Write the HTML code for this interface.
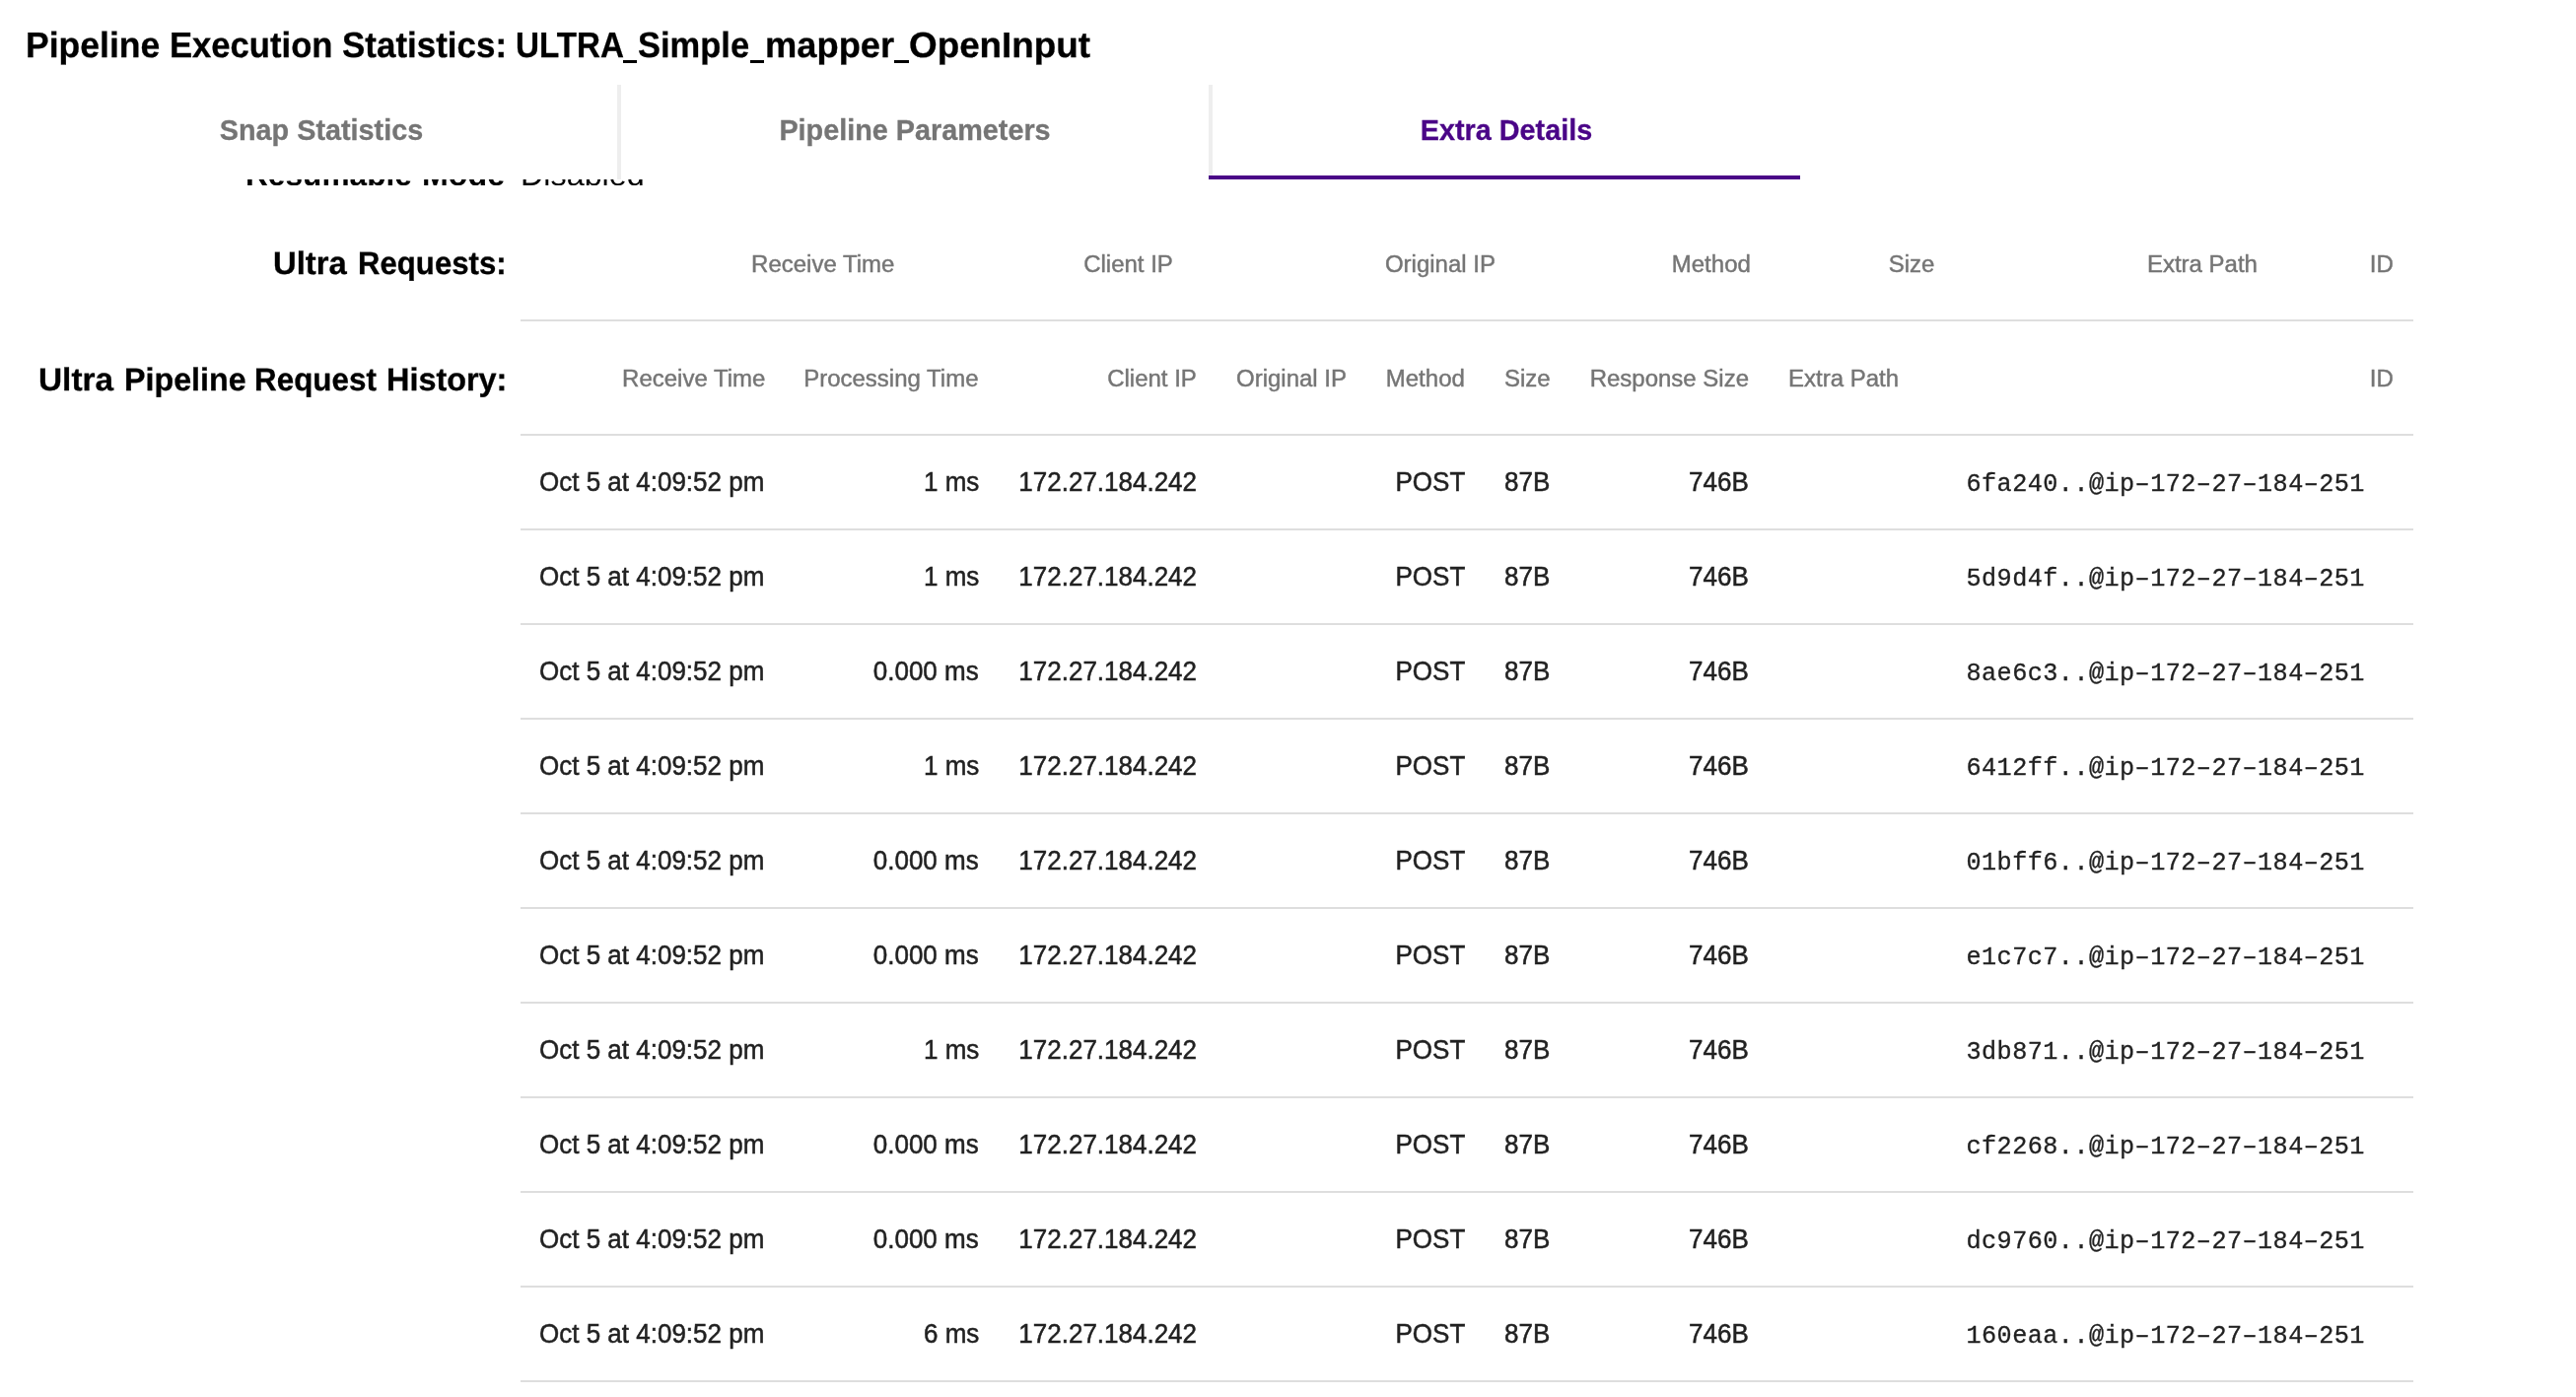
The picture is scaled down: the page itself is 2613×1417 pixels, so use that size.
<!DOCTYPE html>
<html><head><meta charset="utf-8"><title>Pipeline Execution Statistics</title>
<style>
html,body{margin:0;padding:0;background:#fff;}
body{width:2613px;height:1417px;overflow:hidden;position:relative;font-family:"Liberation Sans",sans-serif;}
#app{position:absolute;left:0;top:0;width:2613px;height:1417px;overflow:hidden;will-change:transform;}
.t{position:absolute;white-space:pre;}
.ln{position:absolute;left:528px;width:1920px;height:2px;background:#dedede;}
.sep{position:absolute;top:86px;width:4px;height:96px;background:#eeeeee;}
</style></head><body><div id="app">

<h1 style="margin:0">
<span class="t" style="left:26.44px;top:28.35px;font:bold 36.3px/36.3px 'Liberation Sans', sans-serif;color:#000;transform:scaleX(0.9787);transform-origin:0 50%;text-rendering:geometricPrecision;-webkit-text-stroke:0.3px #000;">Pipeline</span>
<span class="t" style="left:172.09px;top:28.35px;font:bold 36.3px/36.3px 'Liberation Sans', sans-serif;color:#000;transform:scaleX(0.9540);transform-origin:0 50%;text-rendering:geometricPrecision;-webkit-text-stroke:0.3px #000;">Execution</span>
<span class="t" style="left:347.14px;top:28.35px;font:bold 36.3px/36.3px 'Liberation Sans', sans-serif;color:#000;transform:scaleX(0.9629);transform-origin:0 50%;text-rendering:geometricPrecision;-webkit-text-stroke:0.3px #000;">Statistics:</span>
<span class="t" style="left:522.87px;top:28.35px;font:bold 36.3px/36.3px 'Liberation Sans', sans-serif;color:#000;transform:scaleX(0.9138);transform-origin:0 50%;text-rendering:geometricPrecision;-webkit-text-stroke:0.3px #000;">ULTRA</span>
<span class="t" style="left:647.05px;top:28.35px;font:bold 36.3px/36.3px 'Liberation Sans', sans-serif;color:#000;transform:scaleX(0.9501);transform-origin:0 50%;text-rendering:geometricPrecision;-webkit-text-stroke:0.3px #000;">Simple</span>
<span class="t" style="left:776.00px;top:28.35px;font:bold 36.3px/36.3px 'Liberation Sans', sans-serif;color:#000;transform:scaleX(1.0001);transform-origin:0 50%;text-rendering:geometricPrecision;-webkit-text-stroke:0.3px #000;">mapper</span>
<span class="t" style="left:921.99px;top:28.35px;font:bold 36.3px/36.3px 'Liberation Sans', sans-serif;color:#000;transform:scaleX(1.0146);transform-origin:0 50%;text-rendering:geometricPrecision;-webkit-text-stroke:0.3px #000;">OpenInput</span>
<span class="t" style="left:631.8px;top:61px;width:14.7px;height:3px;background:#000;font:3px/3px 'Liberation Sans', sans-serif;color:transparent;overflow:hidden">_</span>
<span class="t" style="left:760.7px;top:61px;width:14.6px;height:3px;background:#000;font:3px/3px 'Liberation Sans', sans-serif;color:transparent;overflow:hidden">_</span>
<span class="t" style="left:907.4px;top:61px;width:14.3px;height:3px;background:#000;font:3px/3px 'Liberation Sans', sans-serif;color:transparent;overflow:hidden">_</span>
</h1>
<div style="position:absolute;left:0;top:182px;width:2613px;height:6.4px;overflow:hidden;">
<span class="t" style="left:249.45px;top:-21.25px;font:bold 32.5px/32.5px 'Liberation Sans', sans-serif;color:#000;transform:scaleX(0.9740);transform-origin:0 50%;text-rendering:geometricPrecision;">Resumable</span>
<span class="t" style="left:428.32px;top:-21.25px;font:bold 32.5px/32.5px 'Liberation Sans', sans-serif;color:#000;transform:scaleX(0.9905);transform-origin:0 50%;text-rendering:geometricPrecision;">Mode</span>
<span class="t" style="left:527.58px;top:-21.00px;font:normal 32px/32px 'Liberation Sans', sans-serif;color:#000;transform:scaleX(1.0098);transform-origin:0 50%;text-rendering:geometricPrecision;">Disabled</span>
</div>
<nav>
<div class="sep" style="left:626px"></div><div class="sep" style="left:1226px"></div>
<div style="position:absolute;left:1226px;top:178px;width:600px;height:4px;background:#4a0587;"></div>
<span class="t" style="top:116.60px;font:bold 29.81px/29.81px 'Liberation Sans', sans-serif;color:#757575;-webkit-text-stroke:0.3px #757575;transform:scaleX(0.9662);transform-origin:50% 50%;left:26.00px;width:600px;text-align:center;">Snap Statistics</span>
<span class="t" style="top:116.60px;font:bold 29.81px/29.81px 'Liberation Sans', sans-serif;color:#757575;-webkit-text-stroke:0.3px #757575;transform:scaleX(0.9662);transform-origin:50% 50%;left:628.00px;width:600px;text-align:center;">Pipeline Parameters</span>
<span class="t" style="top:116.60px;font:bold 29.81px/29.81px 'Liberation Sans', sans-serif;color:#4a0587;-webkit-text-stroke:0.3px #4a0587;transform:scaleX(0.9662);transform-origin:50% 50%;left:1228.00px;width:600px;text-align:center;">Extra Details</span>
</nav>
<span class="t" style="left:277.29px;top:250.75px;font:bold 32.5px/32.5px 'Liberation Sans', sans-serif;color:#000;transform:scaleX(1.0099);transform-origin:0 50%;text-rendering:geometricPrecision;-webkit-text-stroke:0.3px #000;">Ultra</span>
<span class="t" style="left:363.28px;top:250.75px;font:bold 32.5px/32.5px 'Liberation Sans', sans-serif;color:#000;transform:scaleX(0.9586);transform-origin:0 50%;text-rendering:geometricPrecision;-webkit-text-stroke:0.3px #000;">Requests:</span>
<span class="t" style="left:39.37px;top:368.75px;font:bold 32.5px/32.5px 'Liberation Sans', sans-serif;color:#000;transform:scaleX(1.0274);transform-origin:0 50%;text-rendering:geometricPrecision;-webkit-text-stroke:0.3px #000;">Ultra</span>
<span class="t" style="left:126.32px;top:368.75px;font:bold 32.5px/32.5px 'Liberation Sans', sans-serif;color:#000;transform:scaleX(0.9922);transform-origin:0 50%;text-rendering:geometricPrecision;-webkit-text-stroke:0.3px #000;">Pipeline</span>
<span class="t" style="left:258.47px;top:368.75px;font:bold 32.5px/32.5px 'Liberation Sans', sans-serif;color:#000;transform:scaleX(0.9660);transform-origin:0 50%;text-rendering:geometricPrecision;-webkit-text-stroke:0.3px #000;">Request</span>
<span class="t" style="left:391.61px;top:368.75px;font:bold 32.5px/32.5px 'Liberation Sans', sans-serif;color:#000;transform:scaleX(0.9968);transform-origin:0 50%;text-rendering:geometricPrecision;-webkit-text-stroke:0.3px #000;">History:</span>
<span class="t" style="top:256.08px;font:normal 24.84px/24.84px 'Liberation Sans', sans-serif;color:#757575;-webkit-text-stroke:0.45px #757575;transform:scaleX(0.9662);transform-origin:100% 50%;right:1706.00px;">Receive Time</span>
<span class="t" style="top:256.08px;font:normal 24.84px/24.84px 'Liberation Sans', sans-serif;color:#757575;-webkit-text-stroke:0.45px #757575;transform:scaleX(0.9662);transform-origin:100% 50%;right:1423.50px;">Client IP</span>
<span class="t" style="top:256.08px;font:normal 24.84px/24.84px 'Liberation Sans', sans-serif;color:#757575;-webkit-text-stroke:0.45px #757575;transform:scaleX(0.9662);transform-origin:100% 50%;right:1096.50px;">Original IP</span>
<span class="t" style="top:256.08px;font:normal 24.84px/24.84px 'Liberation Sans', sans-serif;color:#757575;-webkit-text-stroke:0.45px #757575;transform:scaleX(0.9662);transform-origin:100% 50%;right:837.50px;">Method</span>
<span class="t" style="top:256.08px;font:normal 24.84px/24.84px 'Liberation Sans', sans-serif;color:#757575;-webkit-text-stroke:0.45px #757575;transform:scaleX(0.9662);transform-origin:100% 50%;right:651.00px;">Size</span>
<span class="t" style="top:256.08px;font:normal 24.84px/24.84px 'Liberation Sans', sans-serif;color:#757575;-webkit-text-stroke:0.45px #757575;transform:scaleX(0.9662);transform-origin:100% 50%;right:323.50px;">Extra Path</span>
<span class="t" style="top:256.08px;font:normal 24.84px/24.84px 'Liberation Sans', sans-serif;color:#757575;-webkit-text-stroke:0.45px #757575;transform:scaleX(0.9662);transform-origin:100% 50%;right:185.50px;">ID</span>
<div class="ln" style="top:324px"></div>
<span class="t" style="top:372.08px;font:normal 24.84px/24.84px 'Liberation Sans', sans-serif;color:#757575;-webkit-text-stroke:0.45px #757575;transform:scaleX(0.9662);transform-origin:100% 50%;right:1837.00px;">Receive Time</span>
<span class="t" style="top:372.08px;font:normal 24.84px/24.84px 'Liberation Sans', sans-serif;color:#757575;-webkit-text-stroke:0.45px #757575;transform:scaleX(0.9662);transform-origin:100% 50%;right:1620.00px;">Processing Time</span>
<span class="t" style="top:372.08px;font:normal 24.84px/24.84px 'Liberation Sans', sans-serif;color:#757575;-webkit-text-stroke:0.45px #757575;transform:scaleX(0.9662);transform-origin:100% 50%;right:1399.00px;">Client IP</span>
<span class="t" style="top:372.08px;font:normal 24.84px/24.84px 'Liberation Sans', sans-serif;color:#757575;-webkit-text-stroke:0.45px #757575;transform:scaleX(0.9662);transform-origin:0 50%;left:1253.50px;">Original IP</span>
<span class="t" style="top:372.08px;font:normal 24.84px/24.84px 'Liberation Sans', sans-serif;color:#757575;-webkit-text-stroke:0.45px #757575;transform:scaleX(0.9662);transform-origin:100% 50%;right:1126.80px;">Method</span>
<span class="t" style="top:372.08px;font:normal 24.84px/24.84px 'Liberation Sans', sans-serif;color:#757575;-webkit-text-stroke:0.45px #757575;transform:scaleX(0.9662);transform-origin:0 50%;left:1525.50px;">Size</span>
<span class="t" style="top:372.08px;font:normal 24.84px/24.84px 'Liberation Sans', sans-serif;color:#757575;-webkit-text-stroke:0.45px #757575;transform:scaleX(0.9662);transform-origin:100% 50%;right:839.00px;">Response Size</span>
<span class="t" style="top:372.08px;font:normal 24.84px/24.84px 'Liberation Sans', sans-serif;color:#757575;-webkit-text-stroke:0.45px #757575;transform:scaleX(0.9662);transform-origin:0 50%;left:1814.00px;">Extra Path</span>
<span class="t" style="top:372.08px;font:normal 24.84px/24.84px 'Liberation Sans', sans-serif;color:#757575;-webkit-text-stroke:0.45px #757575;transform:scaleX(0.9662);transform-origin:100% 50%;right:185.50px;">ID</span>
<div class="ln" style="top:440px"></div>
<div class="row">
<span class="t" style="top:475.55px;font:normal 26.91px/26.91px 'Liberation Sans', sans-serif;color:#212121;-webkit-text-stroke:0.5px #212121;transform:scaleX(0.9662);transform-origin:0 50%;left:547.00px;">Oct 5 at 4:09:52 pm</span>
<span class="t" style="top:475.55px;font:normal 26.91px/26.91px 'Liberation Sans', sans-serif;color:#212121;-webkit-text-stroke:0.5px #212121;transform:scaleX(0.9662);transform-origin:100% 50%;right:1620.00px;">1 ms</span>
<span class="t" style="top:475.55px;font:normal 26.91px/26.91px 'Liberation Sans', sans-serif;color:#212121;-webkit-text-stroke:0.5px #212121;transform:scaleX(0.9662);transform-origin:100% 50%;right:1399.00px;">172.27.184.242</span>
<span class="t" style="top:475.55px;font:normal 26.91px/26.91px 'Liberation Sans', sans-serif;color:#212121;-webkit-text-stroke:0.5px #212121;transform:scaleX(0.9662);transform-origin:100% 50%;right:1127.00px;">POST</span>
<span class="t" style="top:475.55px;font:normal 26.91px/26.91px 'Liberation Sans', sans-serif;color:#212121;-webkit-text-stroke:0.5px #212121;transform:scaleX(0.9662);transform-origin:0 50%;left:1525.50px;">87B</span>
<span class="t" style="top:475.55px;font:normal 26.91px/26.91px 'Liberation Sans', sans-serif;color:#212121;-webkit-text-stroke:0.5px #212121;transform:scaleX(0.9662);transform-origin:100% 50%;right:839.00px;">746B</span>
<span class="t" style="top:478.90px;font:normal 25.20px/25.20px 'Liberation Mono', monospace;color:#212121;letter-spacing:0.44px;-webkit-text-stroke:0.3px #212121;left:1994.50px;">6fa240..@ip&#x2013;172&#x2013;27&#x2013;184&#x2013;251</span>
<div class="ln" style="top:536px"></div>
</div>
<div class="row">
<span class="t" style="top:571.54px;font:normal 26.91px/26.91px 'Liberation Sans', sans-serif;color:#212121;-webkit-text-stroke:0.5px #212121;transform:scaleX(0.9662);transform-origin:0 50%;left:547.00px;">Oct 5 at 4:09:52 pm</span>
<span class="t" style="top:571.54px;font:normal 26.91px/26.91px 'Liberation Sans', sans-serif;color:#212121;-webkit-text-stroke:0.5px #212121;transform:scaleX(0.9662);transform-origin:100% 50%;right:1620.00px;">1 ms</span>
<span class="t" style="top:571.54px;font:normal 26.91px/26.91px 'Liberation Sans', sans-serif;color:#212121;-webkit-text-stroke:0.5px #212121;transform:scaleX(0.9662);transform-origin:100% 50%;right:1399.00px;">172.27.184.242</span>
<span class="t" style="top:571.54px;font:normal 26.91px/26.91px 'Liberation Sans', sans-serif;color:#212121;-webkit-text-stroke:0.5px #212121;transform:scaleX(0.9662);transform-origin:100% 50%;right:1127.00px;">POST</span>
<span class="t" style="top:571.54px;font:normal 26.91px/26.91px 'Liberation Sans', sans-serif;color:#212121;-webkit-text-stroke:0.5px #212121;transform:scaleX(0.9662);transform-origin:0 50%;left:1525.50px;">87B</span>
<span class="t" style="top:571.54px;font:normal 26.91px/26.91px 'Liberation Sans', sans-serif;color:#212121;-webkit-text-stroke:0.5px #212121;transform:scaleX(0.9662);transform-origin:100% 50%;right:839.00px;">746B</span>
<span class="t" style="top:574.90px;font:normal 25.20px/25.20px 'Liberation Mono', monospace;color:#212121;letter-spacing:0.44px;-webkit-text-stroke:0.3px #212121;left:1994.50px;">5d9d4f..@ip&#x2013;172&#x2013;27&#x2013;184&#x2013;251</span>
<div class="ln" style="top:632px"></div>
</div>
<div class="row">
<span class="t" style="top:667.54px;font:normal 26.91px/26.91px 'Liberation Sans', sans-serif;color:#212121;-webkit-text-stroke:0.5px #212121;transform:scaleX(0.9662);transform-origin:0 50%;left:547.00px;">Oct 5 at 4:09:52 pm</span>
<span class="t" style="top:667.54px;font:normal 26.91px/26.91px 'Liberation Sans', sans-serif;color:#212121;-webkit-text-stroke:0.5px #212121;transform:scaleX(0.9662);transform-origin:100% 50%;right:1620.00px;">0.000 ms</span>
<span class="t" style="top:667.54px;font:normal 26.91px/26.91px 'Liberation Sans', sans-serif;color:#212121;-webkit-text-stroke:0.5px #212121;transform:scaleX(0.9662);transform-origin:100% 50%;right:1399.00px;">172.27.184.242</span>
<span class="t" style="top:667.54px;font:normal 26.91px/26.91px 'Liberation Sans', sans-serif;color:#212121;-webkit-text-stroke:0.5px #212121;transform:scaleX(0.9662);transform-origin:100% 50%;right:1127.00px;">POST</span>
<span class="t" style="top:667.54px;font:normal 26.91px/26.91px 'Liberation Sans', sans-serif;color:#212121;-webkit-text-stroke:0.5px #212121;transform:scaleX(0.9662);transform-origin:0 50%;left:1525.50px;">87B</span>
<span class="t" style="top:667.54px;font:normal 26.91px/26.91px 'Liberation Sans', sans-serif;color:#212121;-webkit-text-stroke:0.5px #212121;transform:scaleX(0.9662);transform-origin:100% 50%;right:839.00px;">746B</span>
<span class="t" style="top:670.90px;font:normal 25.20px/25.20px 'Liberation Mono', monospace;color:#212121;letter-spacing:0.44px;-webkit-text-stroke:0.3px #212121;left:1994.50px;">8ae6c3..@ip&#x2013;172&#x2013;27&#x2013;184&#x2013;251</span>
<div class="ln" style="top:728px"></div>
</div>
<div class="row">
<span class="t" style="top:763.54px;font:normal 26.91px/26.91px 'Liberation Sans', sans-serif;color:#212121;-webkit-text-stroke:0.5px #212121;transform:scaleX(0.9662);transform-origin:0 50%;left:547.00px;">Oct 5 at 4:09:52 pm</span>
<span class="t" style="top:763.54px;font:normal 26.91px/26.91px 'Liberation Sans', sans-serif;color:#212121;-webkit-text-stroke:0.5px #212121;transform:scaleX(0.9662);transform-origin:100% 50%;right:1620.00px;">1 ms</span>
<span class="t" style="top:763.54px;font:normal 26.91px/26.91px 'Liberation Sans', sans-serif;color:#212121;-webkit-text-stroke:0.5px #212121;transform:scaleX(0.9662);transform-origin:100% 50%;right:1399.00px;">172.27.184.242</span>
<span class="t" style="top:763.54px;font:normal 26.91px/26.91px 'Liberation Sans', sans-serif;color:#212121;-webkit-text-stroke:0.5px #212121;transform:scaleX(0.9662);transform-origin:100% 50%;right:1127.00px;">POST</span>
<span class="t" style="top:763.54px;font:normal 26.91px/26.91px 'Liberation Sans', sans-serif;color:#212121;-webkit-text-stroke:0.5px #212121;transform:scaleX(0.9662);transform-origin:0 50%;left:1525.50px;">87B</span>
<span class="t" style="top:763.54px;font:normal 26.91px/26.91px 'Liberation Sans', sans-serif;color:#212121;-webkit-text-stroke:0.5px #212121;transform:scaleX(0.9662);transform-origin:100% 50%;right:839.00px;">746B</span>
<span class="t" style="top:766.90px;font:normal 25.20px/25.20px 'Liberation Mono', monospace;color:#212121;letter-spacing:0.44px;-webkit-text-stroke:0.3px #212121;left:1994.50px;">6412ff..@ip&#x2013;172&#x2013;27&#x2013;184&#x2013;251</span>
<div class="ln" style="top:824px"></div>
</div>
<div class="row">
<span class="t" style="top:859.54px;font:normal 26.91px/26.91px 'Liberation Sans', sans-serif;color:#212121;-webkit-text-stroke:0.5px #212121;transform:scaleX(0.9662);transform-origin:0 50%;left:547.00px;">Oct 5 at 4:09:52 pm</span>
<span class="t" style="top:859.54px;font:normal 26.91px/26.91px 'Liberation Sans', sans-serif;color:#212121;-webkit-text-stroke:0.5px #212121;transform:scaleX(0.9662);transform-origin:100% 50%;right:1620.00px;">0.000 ms</span>
<span class="t" style="top:859.54px;font:normal 26.91px/26.91px 'Liberation Sans', sans-serif;color:#212121;-webkit-text-stroke:0.5px #212121;transform:scaleX(0.9662);transform-origin:100% 50%;right:1399.00px;">172.27.184.242</span>
<span class="t" style="top:859.54px;font:normal 26.91px/26.91px 'Liberation Sans', sans-serif;color:#212121;-webkit-text-stroke:0.5px #212121;transform:scaleX(0.9662);transform-origin:100% 50%;right:1127.00px;">POST</span>
<span class="t" style="top:859.54px;font:normal 26.91px/26.91px 'Liberation Sans', sans-serif;color:#212121;-webkit-text-stroke:0.5px #212121;transform:scaleX(0.9662);transform-origin:0 50%;left:1525.50px;">87B</span>
<span class="t" style="top:859.54px;font:normal 26.91px/26.91px 'Liberation Sans', sans-serif;color:#212121;-webkit-text-stroke:0.5px #212121;transform:scaleX(0.9662);transform-origin:100% 50%;right:839.00px;">746B</span>
<span class="t" style="top:862.90px;font:normal 25.20px/25.20px 'Liberation Mono', monospace;color:#212121;letter-spacing:0.44px;-webkit-text-stroke:0.3px #212121;left:1994.50px;">01bff6..@ip&#x2013;172&#x2013;27&#x2013;184&#x2013;251</span>
<div class="ln" style="top:920px"></div>
</div>
<div class="row">
<span class="t" style="top:955.54px;font:normal 26.91px/26.91px 'Liberation Sans', sans-serif;color:#212121;-webkit-text-stroke:0.5px #212121;transform:scaleX(0.9662);transform-origin:0 50%;left:547.00px;">Oct 5 at 4:09:52 pm</span>
<span class="t" style="top:955.54px;font:normal 26.91px/26.91px 'Liberation Sans', sans-serif;color:#212121;-webkit-text-stroke:0.5px #212121;transform:scaleX(0.9662);transform-origin:100% 50%;right:1620.00px;">0.000 ms</span>
<span class="t" style="top:955.54px;font:normal 26.91px/26.91px 'Liberation Sans', sans-serif;color:#212121;-webkit-text-stroke:0.5px #212121;transform:scaleX(0.9662);transform-origin:100% 50%;right:1399.00px;">172.27.184.242</span>
<span class="t" style="top:955.54px;font:normal 26.91px/26.91px 'Liberation Sans', sans-serif;color:#212121;-webkit-text-stroke:0.5px #212121;transform:scaleX(0.9662);transform-origin:100% 50%;right:1127.00px;">POST</span>
<span class="t" style="top:955.54px;font:normal 26.91px/26.91px 'Liberation Sans', sans-serif;color:#212121;-webkit-text-stroke:0.5px #212121;transform:scaleX(0.9662);transform-origin:0 50%;left:1525.50px;">87B</span>
<span class="t" style="top:955.54px;font:normal 26.91px/26.91px 'Liberation Sans', sans-serif;color:#212121;-webkit-text-stroke:0.5px #212121;transform:scaleX(0.9662);transform-origin:100% 50%;right:839.00px;">746B</span>
<span class="t" style="top:958.90px;font:normal 25.20px/25.20px 'Liberation Mono', monospace;color:#212121;letter-spacing:0.44px;-webkit-text-stroke:0.3px #212121;left:1994.50px;">e1c7c7..@ip&#x2013;172&#x2013;27&#x2013;184&#x2013;251</span>
<div class="ln" style="top:1016px"></div>
</div>
<div class="row">
<span class="t" style="top:1051.55px;font:normal 26.91px/26.91px 'Liberation Sans', sans-serif;color:#212121;-webkit-text-stroke:0.5px #212121;transform:scaleX(0.9662);transform-origin:0 50%;left:547.00px;">Oct 5 at 4:09:52 pm</span>
<span class="t" style="top:1051.55px;font:normal 26.91px/26.91px 'Liberation Sans', sans-serif;color:#212121;-webkit-text-stroke:0.5px #212121;transform:scaleX(0.9662);transform-origin:100% 50%;right:1620.00px;">1 ms</span>
<span class="t" style="top:1051.55px;font:normal 26.91px/26.91px 'Liberation Sans', sans-serif;color:#212121;-webkit-text-stroke:0.5px #212121;transform:scaleX(0.9662);transform-origin:100% 50%;right:1399.00px;">172.27.184.242</span>
<span class="t" style="top:1051.55px;font:normal 26.91px/26.91px 'Liberation Sans', sans-serif;color:#212121;-webkit-text-stroke:0.5px #212121;transform:scaleX(0.9662);transform-origin:100% 50%;right:1127.00px;">POST</span>
<span class="t" style="top:1051.55px;font:normal 26.91px/26.91px 'Liberation Sans', sans-serif;color:#212121;-webkit-text-stroke:0.5px #212121;transform:scaleX(0.9662);transform-origin:0 50%;left:1525.50px;">87B</span>
<span class="t" style="top:1051.55px;font:normal 26.91px/26.91px 'Liberation Sans', sans-serif;color:#212121;-webkit-text-stroke:0.5px #212121;transform:scaleX(0.9662);transform-origin:100% 50%;right:839.00px;">746B</span>
<span class="t" style="top:1054.90px;font:normal 25.20px/25.20px 'Liberation Mono', monospace;color:#212121;letter-spacing:0.44px;-webkit-text-stroke:0.3px #212121;left:1994.50px;">3db871..@ip&#x2013;172&#x2013;27&#x2013;184&#x2013;251</span>
<div class="ln" style="top:1112px"></div>
</div>
<div class="row">
<span class="t" style="top:1147.55px;font:normal 26.91px/26.91px 'Liberation Sans', sans-serif;color:#212121;-webkit-text-stroke:0.5px #212121;transform:scaleX(0.9662);transform-origin:0 50%;left:547.00px;">Oct 5 at 4:09:52 pm</span>
<span class="t" style="top:1147.55px;font:normal 26.91px/26.91px 'Liberation Sans', sans-serif;color:#212121;-webkit-text-stroke:0.5px #212121;transform:scaleX(0.9662);transform-origin:100% 50%;right:1620.00px;">0.000 ms</span>
<span class="t" style="top:1147.55px;font:normal 26.91px/26.91px 'Liberation Sans', sans-serif;color:#212121;-webkit-text-stroke:0.5px #212121;transform:scaleX(0.9662);transform-origin:100% 50%;right:1399.00px;">172.27.184.242</span>
<span class="t" style="top:1147.55px;font:normal 26.91px/26.91px 'Liberation Sans', sans-serif;color:#212121;-webkit-text-stroke:0.5px #212121;transform:scaleX(0.9662);transform-origin:100% 50%;right:1127.00px;">POST</span>
<span class="t" style="top:1147.55px;font:normal 26.91px/26.91px 'Liberation Sans', sans-serif;color:#212121;-webkit-text-stroke:0.5px #212121;transform:scaleX(0.9662);transform-origin:0 50%;left:1525.50px;">87B</span>
<span class="t" style="top:1147.55px;font:normal 26.91px/26.91px 'Liberation Sans', sans-serif;color:#212121;-webkit-text-stroke:0.5px #212121;transform:scaleX(0.9662);transform-origin:100% 50%;right:839.00px;">746B</span>
<span class="t" style="top:1150.90px;font:normal 25.20px/25.20px 'Liberation Mono', monospace;color:#212121;letter-spacing:0.44px;-webkit-text-stroke:0.3px #212121;left:1994.50px;">cf2268..@ip&#x2013;172&#x2013;27&#x2013;184&#x2013;251</span>
<div class="ln" style="top:1208px"></div>
</div>
<div class="row">
<span class="t" style="top:1243.55px;font:normal 26.91px/26.91px 'Liberation Sans', sans-serif;color:#212121;-webkit-text-stroke:0.5px #212121;transform:scaleX(0.9662);transform-origin:0 50%;left:547.00px;">Oct 5 at 4:09:52 pm</span>
<span class="t" style="top:1243.55px;font:normal 26.91px/26.91px 'Liberation Sans', sans-serif;color:#212121;-webkit-text-stroke:0.5px #212121;transform:scaleX(0.9662);transform-origin:100% 50%;right:1620.00px;">0.000 ms</span>
<span class="t" style="top:1243.55px;font:normal 26.91px/26.91px 'Liberation Sans', sans-serif;color:#212121;-webkit-text-stroke:0.5px #212121;transform:scaleX(0.9662);transform-origin:100% 50%;right:1399.00px;">172.27.184.242</span>
<span class="t" style="top:1243.55px;font:normal 26.91px/26.91px 'Liberation Sans', sans-serif;color:#212121;-webkit-text-stroke:0.5px #212121;transform:scaleX(0.9662);transform-origin:100% 50%;right:1127.00px;">POST</span>
<span class="t" style="top:1243.55px;font:normal 26.91px/26.91px 'Liberation Sans', sans-serif;color:#212121;-webkit-text-stroke:0.5px #212121;transform:scaleX(0.9662);transform-origin:0 50%;left:1525.50px;">87B</span>
<span class="t" style="top:1243.55px;font:normal 26.91px/26.91px 'Liberation Sans', sans-serif;color:#212121;-webkit-text-stroke:0.5px #212121;transform:scaleX(0.9662);transform-origin:100% 50%;right:839.00px;">746B</span>
<span class="t" style="top:1246.90px;font:normal 25.20px/25.20px 'Liberation Mono', monospace;color:#212121;letter-spacing:0.44px;-webkit-text-stroke:0.3px #212121;left:1994.50px;">dc9760..@ip&#x2013;172&#x2013;27&#x2013;184&#x2013;251</span>
<div class="ln" style="top:1304px"></div>
</div>
<div class="row">
<span class="t" style="top:1339.55px;font:normal 26.91px/26.91px 'Liberation Sans', sans-serif;color:#212121;-webkit-text-stroke:0.5px #212121;transform:scaleX(0.9662);transform-origin:0 50%;left:547.00px;">Oct 5 at 4:09:52 pm</span>
<span class="t" style="top:1339.55px;font:normal 26.91px/26.91px 'Liberation Sans', sans-serif;color:#212121;-webkit-text-stroke:0.5px #212121;transform:scaleX(0.9662);transform-origin:100% 50%;right:1620.00px;">6 ms</span>
<span class="t" style="top:1339.55px;font:normal 26.91px/26.91px 'Liberation Sans', sans-serif;color:#212121;-webkit-text-stroke:0.5px #212121;transform:scaleX(0.9662);transform-origin:100% 50%;right:1399.00px;">172.27.184.242</span>
<span class="t" style="top:1339.55px;font:normal 26.91px/26.91px 'Liberation Sans', sans-serif;color:#212121;-webkit-text-stroke:0.5px #212121;transform:scaleX(0.9662);transform-origin:100% 50%;right:1127.00px;">POST</span>
<span class="t" style="top:1339.55px;font:normal 26.91px/26.91px 'Liberation Sans', sans-serif;color:#212121;-webkit-text-stroke:0.5px #212121;transform:scaleX(0.9662);transform-origin:0 50%;left:1525.50px;">87B</span>
<span class="t" style="top:1339.55px;font:normal 26.91px/26.91px 'Liberation Sans', sans-serif;color:#212121;-webkit-text-stroke:0.5px #212121;transform:scaleX(0.9662);transform-origin:100% 50%;right:839.00px;">746B</span>
<span class="t" style="top:1342.90px;font:normal 25.20px/25.20px 'Liberation Mono', monospace;color:#212121;letter-spacing:0.44px;-webkit-text-stroke:0.3px #212121;left:1994.50px;">160eaa..@ip&#x2013;172&#x2013;27&#x2013;184&#x2013;251</span>
<div class="ln" style="top:1400px"></div>
</div>
</div></body></html>
